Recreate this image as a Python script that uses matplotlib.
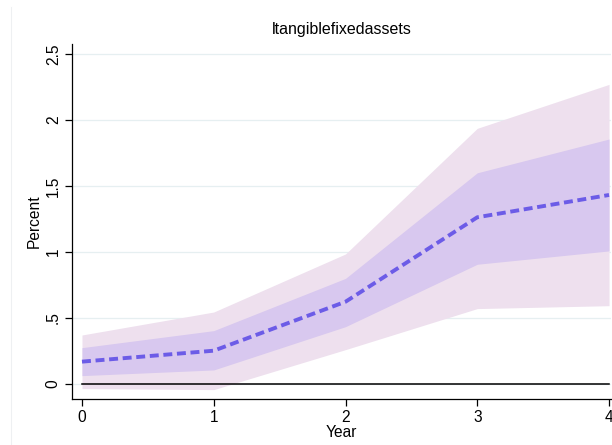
import matplotlib
matplotlib.use('Agg')
import matplotlib.pyplot as plt
from matplotlib.lines import Line2D

plt.rcParams['font.family'] = ['Liberation Sans', 'DejaVu Sans']

YEARS = [0, 1, 2, 3, 4]
IRF = [0.169, 0.252, 0.623, 1.263, 1.432]
IN_LO = [0.063, 0.106, 0.434, 0.907, 1.008]
IN_HI = [0.275, 0.404, 0.800, 1.600, 1.856]
OUT_LO = [-0.035, -0.043, 0.260, 0.571, 0.593]
OUT_HI = [0.371, 0.545, 0.985, 1.937, 2.270]
YTICKS = [0, 0.5, 1, 1.5, 2, 2.5]
YTICK_LABELS = ['0', '.5', '1', '1.5', '2', '2.5']


def main():
    fig = plt.figure(figsize=(6.12, 4.45), dpi=100)
    ax = fig.add_axes([0.1176, 0.1034, 0.8808, 0.7977])

    for y in YTICKS:
        ax.axhline(y, color='#e6eff1', lw=0.9, zorder=0)

    ax.fill_between(YEARS, OUT_LO, OUT_HI, color='#eee0ee', lw=0, zorder=1)
    ax.fill_between(YEARS, IN_LO, IN_HI, color='#d8c8ef', lw=0, zorder=2)
    ax.plot([YEARS[0], YEARS[-1]], [0, 0], color='black', lw=1.1, zorder=3)
    ax.plot(YEARS, IRF, color='#6c5ce7', lw=2.8, dashes=(2.3, 1.2), zorder=4)

    ax.set_xlim(-0.076, 4.015)
    ax.set_ylim(-0.114, 2.576)
    ax.set_xticks(YEARS)
    ax.set_yticks(YTICKS)
    ax.set_yticklabels(YTICK_LABELS, rotation=90, va='center')
    ax.tick_params(direction='out', length=5, width=0.9, labelsize=11.2, pad=3)
    for s in ['top', 'right']:
        ax.spines[s].set_visible(False)
    for s in ['left', 'bottom']:
        ax.spines[s].set_linewidth(0.9)

    ax.set_xlabel('Year', fontsize=11.2, labelpad=0)
    ax.set_ylabel('Percent', fontsize=11.2, labelpad=3)
    ax.set_title('ltangiblefixedassets', fontsize=11.5, pad=7)

    fig.add_artist(Line2D([11/612, 11/612], [0, 1 - 7/445], color='#eef0f2', lw=0.8))

    fig.savefig('out.png', dpi=100)
    plt.close()


if __name__ == '__main__':
    main()
